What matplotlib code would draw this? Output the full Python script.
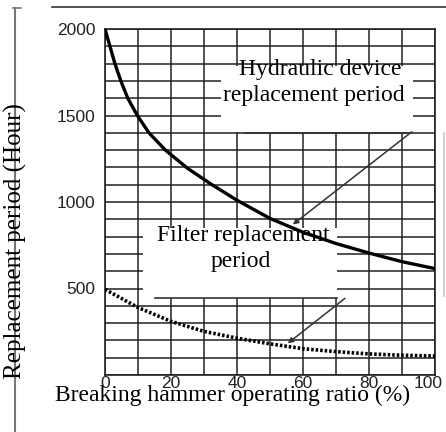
import matplotlib
matplotlib.use("Agg")
from matplotlib import pyplot as plt
from matplotlib.lines import Line2D
from matplotlib.patches import Rectangle
from matplotlib.transforms import ScaledTranslation

# values (hydraulic curve read where it crosses the 100 h grid lines near the start)
ratio_h = [0, 1.5, 3, 4.8, 6.9, 9.8, 13.3, 18.3, 25, 32, 40, 50, 60, 70, 80, 90, 100]
hydraulic = [2000, 1900, 1800, 1700, 1600, 1500, 1400, 1300, 1195, 1105, 1010, 905, 825, 760, 705, 655, 615]

ratio_f = [0, 10, 20, 30, 40, 50, 60, 70, 80, 90, 100]
filter_hours = [495, 390, 310, 252, 213, 180, 152, 135, 122, 114, 110]

x_ticks = [0, 20, 40, 60, 80, 100]
y_ticks = [500, 1000, 1500, 2000]

W, H = 446, 432
fig = plt.figure(figsize=(W / 100, H / 100), dpi=100)
fig.patch.set_facecolor("white")


def fx(px):
    return px / W


def fy(py):
    return 1 - py / H


ax = fig.add_axes([fx(105), fy(375), fx(435) - fx(105), fy(29) - fy(375)])
ax.set_xlim(0, 100)
ax.set_ylim(0, 2000)

# grid: every 10 % and every 100 h
for v in range(0, 101, 10):
    ax.axvline(v, color="#222222", lw=1.1, zorder=1)
for v in range(0, 2001, 100):
    ax.axhline(v, color="#222222", lw=1.1, zorder=1)

ax.plot(ratio_h, hydraulic, color="black", lw=2.4, zorder=4,
        solid_capstyle="round", solid_joinstyle="round")
ax.plot(ratio_f, filter_hours, color="black", lw=2.6, zorder=4,
        linestyle=(0, (0.7, 0.55)), dash_capstyle="butt")

ax.set_xticks(x_ticks)
ax.set_yticks(y_ticks)
ax.tick_params(length=0)
ax.tick_params(axis="x", pad=1)
ax.tick_params(axis="y", pad=7)
for lab in ax.get_xticklabels() + ax.get_yticklabels():
    lab.set_fontfamily("Liberation Sans")
    lab.set_fontsize(12.5)
    lab.set_color("#222222")
last = ax.get_xticklabels()[-1]
last.set_transform(last.get_transform() + ScaledTranslation(-5 / 72, 0, fig.dpi_scale_trans))
for s in ax.spines.values():
    s.set_color("#222222")
    s.set_linewidth(1.2)

# white label boxes over the grid (inside the axes so the curve stays on top)
ax.add_patch(Rectangle((fx(221), fy(132)), fx(413) - fx(221), fy(66) - fy(132),
                       transform=fig.transFigure, facecolor="white", edgecolor="none",
                       zorder=3, clip_on=False))
ax.add_patch(Rectangle((fx(143), fy(298)), fx(337) - fx(143), fy(228) - fy(298),
                       transform=fig.transFigure, facecolor="white", edgecolor="none",
                       zorder=3, clip_on=False))
ax.add_line(Line2D([fx(245), fx(410)], [fy(132.5), fy(132.5)], transform=fig.transFigure,
                   color="#333333", lw=1.2, zorder=3.5, clip_on=False))
ax.add_line(Line2D([fx(155), fx(337)], [fy(298), fy(298)], transform=fig.transFigure,
                   color="#333333", lw=1.2, zorder=3.5, clip_on=False))

serif = "Liberation Serif"
fig.text(fx(320), fy(70), "Hydraulic device", family=serif, fontsize=17,
         ha="center", va="center", zorder=6)
fig.text(fx(314), fy(96), "replacement period", family=serif, fontsize=17,
         ha="center", va="center", zorder=6)
fig.text(fx(243), fy(236), "Filter replacement", family=serif, fontsize=17,
         ha="center", va="center", zorder=6)
fig.text(fx(241), fy(262), "period", family=serif, fontsize=17,
         ha="center", va="center", zorder=6)

# leader arrows
ax.annotate("", xy=(56.9, 870), xytext=(93.0, 1406),
            arrowprops=dict(arrowstyle="-|>", color="#333333", lw=1.1,
                            mutation_scale=8, shrinkA=0, shrinkB=0), zorder=5)
ax.annotate("", xy=(55.4, 183), xytext=(72.7, 443),
            arrowprops=dict(arrowstyle="-|>", color="#333333", lw=1.1,
                            mutation_scale=8, shrinkA=0, shrinkB=0), zorder=5)

fig.text(fx(233), fy(395), "Breaking hammer operating ratio (%)", family=serif,
         fontsize=17, ha="center", va="center", zorder=6)
fig.text(fx(15), fy(241), "Replacement period (Hour)", family=serif,
         fontsize=18, rotation=90, ha="center", va="center", zorder=6)

# scan frame lines
fig.add_artist(Line2D([fx(15), fx(15)], [fy(8), fy(432)], transform=fig.transFigure,
                      color="#777777", lw=1.5, zorder=2))
fig.add_artist(Line2D([fx(13), fx(21)], [fy(8), fy(8)], transform=fig.transFigure,
                      color="#777777", lw=1.2, zorder=2))
fig.add_artist(Line2D([fx(52), fx(446)], [fy(7), fy(7)], transform=fig.transFigure,
                      color="#333333", lw=1.2, zorder=2))
fig.add_artist(Line2D([fx(444), fx(444)], [fy(133), fy(296)], transform=fig.transFigure,
                      color="#c8c8c8", lw=1.2, zorder=2))

fig.savefig("out.png", dpi=100)
